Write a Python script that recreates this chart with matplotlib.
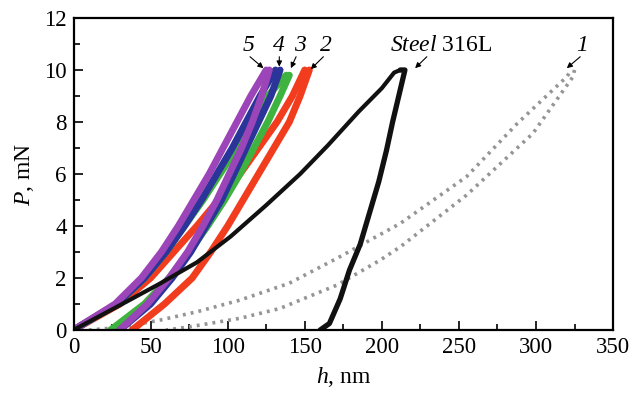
import matplotlib
matplotlib.use("Agg")
import matplotlib.pyplot as plt
from matplotlib.ticker import MultipleLocator

plt.rcParams['font.family'] = ['Liberation Serif', 'DejaVu Serif']
plt.rcParams['mathtext.fontset'] = 'custom'
plt.rcParams['mathtext.rm'] = 'Liberation Serif'
plt.rcParams['mathtext.it'] = 'Liberation Serif:italic'

# ---- data (h in nm, P in mN) ----
# sample 1 (gray)
h1_load = [10, 30, 56, 80, 108, 140, 171, 212, 255, 288, 320, 323]
P1_load = [0, 0.1, 0.38, 0.7, 1.15, 1.8, 2.76, 4.1, 5.9, 7.95, 9.74, 10.0]
h1_unl = [325, 324, 298, 255, 212, 199, 171, 147, 134, 108, 76, 60]
P1_unl = [10.0, 9.74, 7.56, 5.19, 3.2, 2.69, 1.73, 1.15, 0.83, 0.45, 0.13, 0]

# Steel 316L (black)
hs_load = [0, 30, 55, 80, 102, 125, 147, 165, 185, 200, 208, 212]
Ps_load = [0, 0.95, 1.75, 2.6, 3.6, 4.8, 6.0, 7.1, 8.4, 9.3, 9.9, 10.0]
hs_unl = [212, 215, 213, 207, 203, 198, 191, 186, 179, 173, 166, 160]
Ps_unl = [10.0, 10.0, 9.5, 8.0, 6.9, 5.7, 4.3, 3.3, 2.3, 1.2, 0.25, 0]

P_levels = [0, 1, 2, 3, 4, 5, 6, 7, 8, 9, 10]

# sample 2 (red)
h2_load = [0, 30, 50, 65, 80, 94, 108, 120, 132, 142, 150]
h2_unl = [38, 59, 77, 89, 100, 110, 120, 130, 140, 147, 153]
# sample 3 (green)
P3_levels = [0, 1, 2, 3, 4, 5, 6, 7, 8, 9, 9.8]
h3_load = [0, 28, 46, 60, 72, 84, 95, 106, 116, 126, 138]
h3_unl = [24, 46, 62, 75, 87, 98, 108, 117, 126, 134, 140]
# sample 4 (blue)
h4_load = [0, 28, 46, 60, 72, 83, 93, 103, 112, 121, 131]
h4_unl = [30, 50, 64, 76, 86, 96, 104, 112, 120, 128, 134]
# sample 5 (purple)
h5_load = [0, 27, 44, 57, 68, 78, 88, 97, 106, 115, 125]
h5_unl = [30, 48, 62, 74, 84, 93, 101, 109, 116, 122, 127]

x_ticks = [0, 50, 100, 150, 200, 250, 300, 350]
y_ticks = [0, 2, 4, 6, 8, 10, 12]

fig = plt.figure(figsize=(6.32, 3.99), dpi=100)
ax = fig.add_axes([0.1163, 0.1729, 0.8537, 0.782])

gray = '#959595'
ax.plot(h1_load, P1_load, color=gray, lw=2.6, ls=(0, (0.8, 1.4)))
ax.plot(h1_unl, P1_unl, color=gray, lw=2.6, ls=(0, (0.8, 1.4)))

lw_c = 5.0
ax.plot(h2_load, P_levels, color='#f23c1e', lw=lw_c, solid_capstyle='round')
ax.plot(h2_unl, P_levels, color='#f23c1e', lw=lw_c, solid_capstyle='round')
ax.plot(h3_load, P3_levels, color='#3fb33f', lw=lw_c, solid_capstyle='round')
ax.plot(h3_unl, P3_levels, color='#3fb33f', lw=lw_c, solid_capstyle='round')
ax.plot(h4_load, P_levels, color='#2b3499', lw=lw_c, solid_capstyle='round')
ax.plot(h4_unl, P_levels, color='#2b3499', lw=lw_c, solid_capstyle='round')
ax.plot(h5_load, P_levels, color='#9b45b8', lw=lw_c, solid_capstyle='round')
ax.plot(h5_unl, P_levels, color='#9b45b8', lw=lw_c, solid_capstyle='round')

ax.plot(hs_load, Ps_load, color='#111111', lw=3.0, solid_capstyle='round')
ax.plot(hs_unl, Ps_unl, color='#111111', lw=3.8, solid_capstyle='round')

ax.set_xlim(0, 350)
ax.set_ylim(0, 12)
ax.set_xticks(x_ticks)
ax.set_yticks(y_ticks)
ax.xaxis.set_minor_locator(MultipleLocator(25))
ax.yaxis.set_minor_locator(MultipleLocator(1))
ax.tick_params(which='both', direction='in', top=False, right=False,
               labelsize=16.5, width=1.2, pad=5)
ax.tick_params(which='major', length=6.5)
ax.tick_params(which='minor', length=4)
for s in ax.spines.values():
    s.set_linewidth(1.6)

ax.set_xlabel('$h$, nm', fontsize=17, labelpad=5)
ax.set_ylabel('$P$, mN', fontsize=17, labelpad=6)

arrow = dict(arrowstyle='-|>', color='black', lw=0.8, mutation_scale=8,
             shrinkA=0, shrinkB=0)
lab_kw = dict(fontsize=17, ha='center', va='center', style='italic')
ax.annotate('', xy=(123.2, 10.07), xytext=(114.5, 10.51), arrowprops=arrow)
ax.annotate('', xy=(133.5, 10.13), xytext=(133.5, 10.51), arrowprops=arrow)
ax.annotate('', xy=(141.0, 10.07), xytext=(144.4, 10.51), arrowprops=arrow)
ax.annotate('', xy=(153.9, 10.03), xytext=(162.1, 10.51), arrowprops=arrow)
ax.annotate('', xy=(221.6, 10.07), xytext=(229.2, 10.51), arrowprops=arrow)
ax.annotate('', xy=(320.0, 10.07), xytext=(328.7, 10.51), arrowprops=arrow)
ax.text(113.4, 10.96, '5', **lab_kw)
ax.text(133.5, 10.96, '4', **lab_kw)
ax.text(147.0, 10.96, '3', **lab_kw)
ax.text(163.9, 10.96, '2', **lab_kw)
ax.text(330.0, 10.96, '1', **lab_kw)
ax.text(238.5, 10.96, r'$\mathit{Steel}$ 316L', fontsize=17, ha='center', va='center')

fig.savefig('out.png', dpi=100)
